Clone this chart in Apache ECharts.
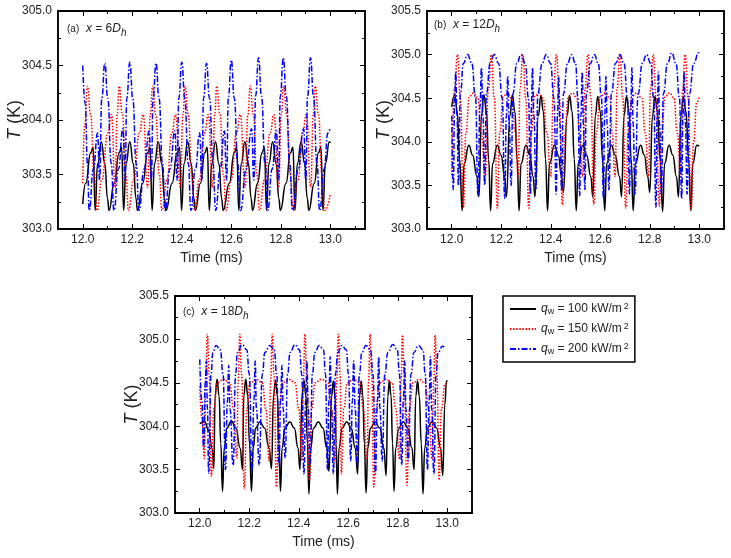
<!DOCTYPE html>
<html>
<head>
<meta charset="utf-8">
<script src="https://cdn.jsdelivr.net/npm/echarts@6.0.0/dist/echarts.min.js"></script>
<style>
html, body { margin: 0; padding: 0; background: #fff; }
#chart { width: 731px; height: 558px; }
</style>
</head>
<body>
<div id="chart"></div>
<script>
// tick values
const majorTimes = [12.0, 12.2, 12.4, 12.6, 12.8, 13.0];
const minorTimes = [11.9, 12.1, 12.3, 12.5, 12.7, 12.9, 13.1];
const heatFlux = ['100', '150', '200'];
const panelTags = ['(a)', '(b)', '(c)'];
const panelPos = ['6', '12', '18'];

// (a) x = 6Dh : [time (ms), T (K)]
const a100 = [[12.000,303.23],
  [12.012,303.42],[12.032,303.70],[12.042,303.75],[12.050,303.17],[12.060,303.60],[12.075,303.80],[12.089,303.60],[12.100,303.28],[12.106,303.17],
  [12.127,303.42],[12.147,303.70],[12.157,303.75],[12.165,303.17],[12.175,303.60],[12.190,303.80],[12.204,303.60],[12.215,303.28],[12.221,303.17],
  [12.242,303.42],[12.262,303.70],[12.272,303.75],[12.280,303.17],[12.290,303.60],[12.305,303.80],[12.319,303.60],[12.330,303.28],[12.336,303.17],
  [12.361,303.42],[12.381,303.70],[12.391,303.75],[12.399,303.17],[12.409,303.60],[12.424,303.80],[12.438,303.60],[12.449,303.28],[12.455,303.17],
  [12.475,303.42],[12.493,303.70],[12.503,303.75],[12.511,303.17],[12.521,303.60],[12.536,303.80],[12.550,303.60],[12.561,303.28],[12.567,303.17],
  [12.592,303.42],[12.612,303.70],[12.622,303.75],[12.630,303.17],[12.640,303.60],[12.655,303.80],[12.669,303.60],[12.680,303.28],[12.686,303.17],
  [12.706,303.42],[12.724,303.70],[12.734,303.75],[12.742,303.17],[12.752,303.60],[12.767,303.80],[12.781,303.60],[12.792,303.28],[12.798,303.17],
  [12.821,303.42],[12.839,303.70],[12.849,303.75],[12.857,303.17],[12.867,303.60],[12.882,303.80],[12.896,303.60],[12.907,303.28],[12.913,303.17],
  [12.935,303.42],[12.952,303.70],[12.962,303.75],[12.970,303.17],[12.980,303.60],[12.996,303.80],[13.000,303.79]];
const a150 = [[12.000,303.42],[12.008,303.95],[12.019,304.31],[12.032,304.05],[12.046,303.50],[12.057,303.17],
  [12.077,303.45],[12.101,303.88],[12.116,304.05],[12.131,303.38],[12.139,304.05],[12.147,304.31],[12.160,304.05],[12.174,303.50],[12.185,303.17],
  [12.205,303.45],[12.229,303.88],[12.244,304.05],[12.262,303.38],[12.273,304.05],[12.282,304.31],[12.295,304.05],[12.309,303.50],[12.320,303.17],
  [12.340,303.45],[12.360,303.88],[12.375,304.05],[12.394,303.38],[12.405,304.05],[12.413,304.31],[12.426,304.05],[12.440,303.50],[12.451,303.17],
  [12.471,303.45],[12.492,303.88],[12.507,304.05],[12.524,303.38],[12.533,304.05],[12.541,304.31],[12.554,304.05],[12.568,303.50],[12.579,303.17],
  [12.599,303.45],[12.621,303.88],[12.636,304.05],[12.656,303.38],[12.667,304.05],[12.676,304.31],[12.689,304.05],[12.703,303.50],[12.714,303.17],
  [12.734,303.45],[12.757,303.88],[12.772,304.05],[12.791,303.38],[12.802,304.05],[12.811,304.31],[12.824,304.05],[12.838,303.50],[12.849,303.17],
  [12.869,303.45],[12.888,303.88],[12.903,304.05],[12.921,303.38],[12.931,304.05],[12.939,304.31],[12.952,304.05],[12.966,303.50],[12.977,303.17],
  [13.000,303.32]];
const a200 = [[12.000,304.50],[12.010,304.15],[12.019,303.60],[12.026,303.17],
  [12.043,303.55],[12.060,303.88],[12.068,303.45],[12.077,304.20],[12.089,304.52],[12.101,304.20],[12.115,303.60],[12.126,303.17],
  [12.144,303.55],[12.162,303.92],[12.171,303.45],[12.178,304.20],[12.190,304.53],[12.202,304.20],[12.216,303.60],[12.227,303.17],
  [12.248,303.55],[12.268,303.90],[12.277,303.45],[12.284,304.20],[12.296,304.52],[12.308,304.20],[12.322,303.60],[12.333,303.17],
  [12.352,303.55],[12.372,303.90],[12.381,303.45],[12.388,304.20],[12.400,304.53],[12.412,304.20],[12.426,303.60],[12.437,303.17],
  [12.455,303.55],[12.472,303.88],[12.481,303.45],[12.488,304.20],[12.500,304.52],[12.512,304.20],[12.526,303.60],[12.537,303.17],
  [12.555,303.55],[12.572,303.90],[12.581,303.45],[12.588,304.20],[12.600,304.55],[12.612,304.20],[12.626,303.60],[12.637,303.17],
  [12.660,303.55],[12.682,303.92],[12.691,303.45],[12.698,304.22],[12.710,304.57],[12.722,304.22],[12.736,303.60],[12.747,303.17],
  [12.765,303.55],[12.782,303.90],[12.791,303.45],[12.798,304.22],[12.810,304.57],[12.822,304.22],[12.836,303.60],[12.847,303.17],
  [12.870,303.55],[12.892,303.92],[12.901,303.45],[12.908,304.22],[12.920,304.57],[12.932,304.22],[12.946,303.60],[12.957,303.17],
  [12.975,303.55],[12.990,303.88],[13.000,303.93]];

// (b) x = 12Dh
const b100 = [[12.000,304.40],[12.012,304.54],[12.022,304.35],[12.032,303.80],[12.042,303.21],[12.050,303.75],[12.069,303.96],[12.084,303.85],[12.102,303.60],[12.110,303.37],
  [12.120,304.30],[12.130,304.54],[12.140,304.35],[12.149,303.80],[12.157,303.21],[12.165,303.75],[12.184,303.96],[12.199,303.85],[12.214,303.60],[12.221,303.37],
  [12.235,304.30],[12.245,304.54],[12.255,304.35],[12.264,303.80],[12.272,303.21],[12.280,303.75],[12.300,303.96],[12.315,303.85],[12.329,303.60],[12.336,303.37],
  [12.350,304.30],[12.360,304.53],[12.370,304.35],[12.379,303.80],[12.387,303.21],[12.395,303.75],[12.415,303.96],[12.430,303.85],[12.444,303.60],[12.451,303.42],
  [12.466,304.30],[12.476,304.53],[12.486,304.35],[12.495,303.80],[12.503,303.21],[12.511,303.75],[12.530,303.96],[12.545,303.85],[12.562,303.60],[12.570,303.37],
  [12.580,304.30],[12.590,304.52],[12.600,304.35],[12.609,303.80],[12.618,303.21],[12.626,303.75],[12.645,303.96],[12.660,303.85],[12.678,303.60],[12.686,303.37],
  [12.696,304.30],[12.706,304.52],[12.716,304.35],[12.725,303.80],[12.733,303.21],[12.742,303.75],[12.763,303.96],[12.778,303.85],[12.792,303.60],[12.800,303.42],
  [12.811,304.30],[12.821,304.52],[12.831,304.35],[12.842,303.80],[12.852,303.20],[12.860,303.75],[12.878,303.96],[12.893,303.85],[12.908,303.60],[12.916,303.37],
  [12.926,304.30],[12.936,304.52],[12.946,304.35],[12.957,303.80],[12.966,303.21],[12.974,303.75],[12.990,303.96],[13.000,303.95]];
const b150 = [[12.000,303.62],[12.011,304.60],[12.023,305.00],[12.035,304.50],[12.047,303.24],[12.057,304.10],[12.071,304.52],[12.088,304.56],[12.105,304.50],[12.120,304.10],[12.135,303.60],
  [12.148,304.60],[12.160,305.00],[12.172,304.50],[12.184,303.24],[12.194,304.10],[12.208,304.52],[12.225,304.56],[12.242,304.50],[12.257,304.10],[12.268,303.60],
  [12.276,304.60],[12.287,305.00],[12.299,304.50],[12.311,303.24],[12.321,304.10],[12.335,304.52],[12.352,304.56],[12.369,304.50],[12.384,304.10],[12.400,303.60],
  [12.411,304.60],[12.423,305.00],[12.435,304.50],[12.447,303.28],[12.457,304.10],[12.471,304.52],[12.488,304.56],[12.505,304.50],[12.516,304.10],[12.528,303.60],
  [12.539,304.60],[12.550,305.00],[12.562,304.50],[12.574,303.28],[12.584,304.10],[12.600,304.52],[12.620,304.56],[12.640,304.50],[12.648,304.10],[12.660,303.60],
  [12.668,304.60],[12.679,305.00],[12.691,304.50],[12.703,303.24],[12.713,304.10],[12.728,304.52],[12.748,304.56],[12.768,304.50],[12.782,304.10],[12.795,303.60],
  [12.803,304.60],[12.814,305.00],[12.826,304.50],[12.838,303.26],[12.848,304.10],[12.862,304.52],[12.880,304.56],[12.898,304.50],[12.911,304.10],[12.925,303.60],
  [12.933,304.60],[12.943,305.00],[12.955,304.50],[12.967,303.22],[12.977,304.00],[12.990,304.45],[13.000,304.52]];
const b200 = [[12.000,304.30],[12.006,303.45],[12.012,304.50],[12.016,304.80],[12.021,304.30],[12.027,303.50],[12.035,304.55],
  [12.047,304.90],[12.064,305.00],[12.081,304.90],[12.096,304.50],[12.106,303.38],[12.114,304.40],[12.120,304.85],[12.126,304.30],[12.133,303.50],[12.140,304.55],
  [12.155,304.90],[12.172,305.00],[12.189,304.90],[12.204,304.50],[12.214,303.35],[12.221,304.30],[12.226,304.75],[12.232,304.20],[12.240,303.50],[12.247,304.55],
  [12.263,304.90],[12.280,305.00],[12.297,304.90],[12.310,304.50],[12.318,303.40],[12.322,304.40],[12.326,304.85],[12.332,304.30],[12.340,303.45],[12.348,304.55],
  [12.365,304.90],[12.382,305.00],[12.399,304.90],[12.413,304.50],[12.422,303.40],[12.427,304.30],[12.432,304.75],[12.437,304.20],[12.444,303.45],[12.451,304.55],
  [12.468,304.90],[12.484,305.00],[12.500,304.90],[12.510,304.50],[12.517,303.38],[12.522,304.30],[12.527,304.80],[12.532,304.20],[12.538,303.45],[12.544,304.55],
  [12.560,304.90],[12.576,305.00],[12.592,304.90],[12.605,304.50],[12.613,303.35],[12.618,304.30],[12.623,304.75],[12.628,304.20],[12.635,303.45],[12.645,304.55],
  [12.662,304.90],[12.679,305.00],[12.696,304.90],[12.710,304.50],[12.718,303.40],[12.723,304.30],[12.728,304.85],[12.733,304.20],[12.740,303.40],[12.753,304.55],
  [12.770,304.90],[12.787,305.00],[12.804,304.90],[12.816,304.50],[12.825,303.25],[12.830,304.30],[12.835,304.80],[12.840,304.20],[12.847,303.40],[12.855,304.55],
  [12.872,304.90],[12.889,305.02],[12.906,304.90],[12.920,304.50],[12.929,303.35],[12.934,304.30],[12.939,304.80],[12.944,304.20],[12.951,303.40],[12.960,304.55],
  [12.978,304.90],[12.997,305.02],[13.000,305.02]];

// (c) x = 18Dh
const c100 = [[12.000,304.03],[12.020,304.05],[12.036,303.95],[12.050,303.75],[12.057,303.51],
  [12.062,304.35],[12.070,304.54],[12.078,304.35],[12.085,303.80],[12.092,303.25],[12.099,303.75],[12.110,303.98],[12.128,304.06],[12.146,303.98],[12.163,303.75],[12.173,303.50],
  [12.178,304.35],[12.186,304.54],[12.194,304.35],[12.201,303.80],[12.209,303.25],[12.216,303.75],[12.226,303.98],[12.243,304.05],[12.262,303.98],[12.280,303.75],[12.290,303.51],
  [12.298,304.35],[12.306,304.53],[12.314,304.35],[12.320,303.80],[12.326,303.25],[12.333,303.75],[12.344,303.98],[12.364,304.05],[12.382,303.98],[12.397,303.75],[12.405,303.50],
  [12.413,304.35],[12.421,304.53],[12.429,304.35],[12.435,303.80],[12.441,303.22],[12.448,303.75],[12.460,303.98],[12.479,304.05],[12.498,303.98],[12.513,303.75],[12.522,303.48],
  [12.533,304.35],[12.540,304.52],[12.547,304.35],[12.551,303.80],[12.556,303.22],[12.563,303.75],[12.575,303.98],[12.594,304.05],[12.612,303.98],[12.628,303.75],[12.638,303.45],
  [12.646,304.35],[12.652,304.52],[12.659,304.35],[12.665,303.80],[12.672,303.23],[12.679,303.75],[12.690,303.98],[12.708,304.05],[12.727,303.98],[12.744,303.75],[12.753,303.43],
  [12.760,304.35],[12.766,304.52],[12.773,304.35],[12.779,303.80],[12.785,303.25],[12.792,303.75],[12.804,303.98],[12.823,304.05],[12.841,303.98],[12.857,303.75],[12.866,303.50],
  [12.873,304.35],[12.880,304.52],[12.887,304.35],[12.895,303.80],[12.902,303.22],[12.909,303.75],[12.920,303.98],[12.938,304.05],[12.957,303.98],[12.973,303.75],[12.982,303.43],
  [12.990,304.25],[12.997,304.52],[13.000,304.53]];
const c150 = [[12.000,304.46],[12.008,304.10],[12.019,303.63],[12.024,304.50],[12.031,305.06],[12.038,304.60],[12.047,303.42],
  [12.057,304.20],[12.071,304.50],[12.096,304.54],[12.121,304.50],[12.136,304.20],[12.150,303.63],
  [12.155,304.50],[12.162,305.06],[12.169,304.60],[12.180,303.28],[12.190,304.20],[12.203,304.50],[12.228,304.54],[12.253,304.50],[12.267,304.20],[12.281,303.60],
  [12.286,304.50],[12.293,305.06],[12.300,304.60],[12.310,303.30],[12.320,304.20],[12.334,304.50],[12.360,304.54],[12.385,304.50],[12.400,304.20],[12.413,303.60],
  [12.418,304.50],[12.425,305.06],[12.432,304.60],[12.443,303.38],[12.452,304.20],[12.466,304.50],[12.492,304.54],[12.517,304.50],[12.533,304.20],[12.547,303.60],
  [12.553,304.50],[12.560,305.06],[12.567,304.60],[12.572,303.45],[12.582,304.20],[12.596,304.50],[12.621,304.54],[12.646,304.50],[12.661,304.20],[12.676,303.62],
  [12.682,304.50],[12.688,305.06],[12.695,304.60],[12.703,303.30],[12.713,304.20],[12.727,304.50],[12.752,304.54],[12.777,304.50],[12.792,304.20],[12.807,303.62],
  [12.813,304.50],[12.819,305.05],[12.826,304.60],[12.837,303.32],[12.847,304.20],[12.861,304.50],[12.885,304.54],[12.910,304.50],[12.925,304.20],[12.939,303.62],
  [12.945,304.50],[12.951,305.05],[12.958,304.60],[12.967,303.38],[12.977,304.20],[12.990,304.48],[13.000,304.52]];
const c200 = [[12.000,304.77],[12.008,304.30],[12.016,303.75],[12.022,304.50],[12.027,304.75],[12.031,304.20],[12.036,303.46],
  [12.046,304.60],[12.053,304.85],[12.066,304.93],[12.083,304.88],[12.094,304.60],[12.104,303.50],[12.112,304.30],[12.117,304.70],[12.122,304.20],[12.135,303.55],[12.145,304.60],
  [12.152,304.85],[12.172,304.94],[12.190,304.88],[12.200,304.60],[12.211,303.48],[12.219,304.30],[12.224,304.75],[12.229,304.20],[12.240,303.55],[12.253,304.60],
  [12.263,304.85],[12.283,304.93],[12.301,304.88],[12.311,304.60],[12.320,303.55],[12.327,304.30],[12.332,304.70],[12.337,304.20],[12.345,303.63],[12.355,304.60],
  [12.365,304.85],[12.385,304.94],[12.403,304.88],[12.412,304.60],[12.421,303.45],[12.428,304.30],[12.433,304.75],[12.438,304.20],[12.446,303.55],[12.455,304.60],
  [12.465,304.85],[12.483,304.93],[12.500,304.88],[12.508,304.60],[12.516,303.50],[12.522,304.30],[12.527,304.80],[12.532,304.20],[12.540,303.45],[12.548,304.60],
  [12.558,304.85],[12.574,304.93],[12.592,304.88],[12.601,304.60],[12.610,303.60],[12.617,304.30],[12.622,304.75],[12.628,304.20],[12.636,303.55],[12.645,304.60],
  [12.655,304.85],[12.671,304.93],[12.690,304.88],[12.700,304.60],[12.710,303.45],[12.718,304.30],[12.723,304.80],[12.728,304.20],[12.737,303.60],[12.748,304.60],
  [12.760,304.85],[12.780,304.94],[12.798,304.88],[12.807,304.60],[12.816,303.55],[12.823,304.30],[12.828,304.75],[12.833,304.20],[12.842,303.60],[12.854,304.60],
  [12.865,304.85],[12.884,304.93],[12.902,304.88],[12.911,304.60],[12.920,303.50],[12.927,304.30],[12.932,304.80],[12.937,304.20],[12.946,303.45],[12.955,304.60],
  [12.963,304.85],[12.980,304.92],[12.988,304.91]];

const panelData = [[a100, a150, a200], [b100, b150, b200], [c100, c150, c200]];

// layout of the three frames
const panels = [
  { left: 58, top: 11, width: 307, height: 218, xmax: 13.14, ymax: 305.0, tagX: 67, tagY: 23 },
  { left: 427, top: 11, width: 297, height: 218, xmax: 13.1, ymax: 305.5, tagX: 434, tagY: 19 },
  { left: 175, top: 296, width: 297, height: 217, xmax: 13.1, ymax: 305.5, tagX: 183, tagY: 306 },
];

const FONT = 'Arial, "Liberation Sans", sans-serif';
const lineColors = ['#000000', '#ff0000', '#0000ff'];
const lineTypes = ['solid', [1.5, 1.6], [6, 2, 1.5, 2]];
const tickStyle = { color: '#000', width: 1 };

function timeAxes(g, xmax) {
  const base = { gridIndex: g, type: 'value', min: 11.9, max: xmax,
    splitLine: { show: false },
    axisLine: { show: true, onZero: false, lineStyle: { color: '#000', width: 1.5 } } };
  return [
    Object.assign({}, base, {
      position: 'bottom',
      axisTick: { inside: true, length: 5, customValues: majorTimes, lineStyle: tickStyle },
      axisLabel: { customValues: majorTimes, formatter: (v) => v.toFixed(1), margin: 5,
        fontSize: 12, color: '#222', fontFamily: FONT },
      name: 'Time (ms)', nameLocation: 'middle', nameGap: 22, nameMoveOverlap: false,
      nameTextStyle: { fontSize: 14, color: '#222', fontFamily: FONT },
    }),
    Object.assign({}, base, { position: 'bottom',
      axisTick: { inside: true, length: 3, customValues: minorTimes, lineStyle: tickStyle },
      axisLabel: { show: false } }),
    Object.assign({}, base, { position: 'top',
      axisTick: { inside: true, length: 5, customValues: majorTimes, lineStyle: tickStyle },
      axisLabel: { show: false } }),
    Object.assign({}, base, { position: 'top',
      axisTick: { inside: true, length: 3, customValues: minorTimes, lineStyle: tickStyle },
      axisLabel: { show: false } }),
  ];
}

function tempAxes(g, ymax) {
  const base = { gridIndex: g, type: 'value', min: 303, max: ymax, interval: 0.5,
    splitLine: { show: false },
    axisLine: { show: true, onZero: false, lineStyle: { color: '#000', width: 1.5 } },
    axisTick: { show: true, inside: true, length: 5, lineStyle: tickStyle },
    minorTick: { show: true, splitNumber: 2, length: 3, lineStyle: tickStyle },
    minorSplitLine: { show: false } };
  return [
    Object.assign({}, base, {
      position: 'left',
      axisLabel: { formatter: (v) => v.toFixed(1), margin: 6, fontSize: 12, color: '#222', fontFamily: FONT },
      name: '{i|T} (K)', nameLocation: 'middle', nameRotate: 90, nameGap: 34, nameMoveOverlap: false,
      nameTextStyle: { fontSize: 18, color: '#222', fontFamily: FONT,
        rich: { i: { fontSize: 18, fontStyle: 'italic', color: '#222', fontFamily: FONT } } },
    }),
    Object.assign({}, base, { position: 'right', axisLabel: { show: false } }),
  ];
}

function richText(lh) {
  return {
    i: { fontStyle: 'italic', fontSize: 12, color: '#222', fontFamily: FONT, lineHeight: lh },
    n: { fontSize: 12, color: '#222', fontFamily: FONT, lineHeight: lh },
    t: { fontSize: 10, color: '#222', fontFamily: FONT, lineHeight: lh },
    s: { fontSize: 9, color: '#222', fontFamily: FONT, lineHeight: 9, verticalAlign: 'bottom' },
    si: { fontStyle: 'italic', fontSize: 10, color: '#222', fontFamily: FONT, lineHeight: 10, verticalAlign: 'bottom' },
    p: { fontSize: 9, color: '#222', fontFamily: FONT, lineHeight: 9, verticalAlign: 'top', padding: [0, 0, 0, 2] },
  };
}

const xAxes = [], yAxes = [], series = [], graphics = [];
panels.forEach((p, g) => {
  xAxes.push(...timeAxes(g, p.xmax));
  yAxes.push(...tempAxes(g, p.ymax));
  panelData[g].forEach((d, k) => {
    series.push({
      name: heatFlux[k], type: 'line', xAxisIndex: 4 * g, yAxisIndex: 2 * g,
      data: d, showSymbol: false, symbol: 'none', smooth: 0.5, smoothMonotone: 'x',
      lineStyle: { color: lineColors[k], width: 1.5, type: lineTypes[k] },
      itemStyle: { color: lineColors[k] },
      animation: false,
    });
  });
  graphics.push({
    type: 'text', left: p.tagX, top: p.tagY, z: 10,
    style: {
      text: '{t|' + panelTags[g] + '}  {i|x}{n| = ' + panelPos[g] + '}{i|D}{si|h}',
      rich: richText(18), fill: '#222', font: '12px ' + FONT,
    },
  });
});

const chart = echarts.init(document.getElementById('chart'));
chart.setOption({
  animation: false,
  backgroundColor: '#fff',
  grid: panels.map((p) => ({ left: p.left, top: p.top, width: p.width, height: p.height,
    outerBoundsMode: 'none', containLabel: false,
    show: true, borderColor: '#000', borderWidth: 1.5, backgroundColor: 'transparent' })),
  xAxis: xAxes,
  yAxis: yAxes,
  legend: {
    data: heatFlux, left: 503, top: 296, orient: 'vertical', selectedMode: false,
    itemWidth: 26, itemHeight: 12, itemGap: 6, padding: [6, 6, 6, 6],
    itemStyle: { opacity: 0 },
    borderColor: '#000', borderWidth: 1.5, backgroundColor: '#fff',
    formatter: (name) => '{i|q}{s|w}{n| = ' + name + ' kW/m}{p|2}',
    textStyle: { fontSize: 12, color: '#222', fontFamily: FONT, rich: richText(14) },
  },
  graphic: graphics,
  series: series,
});
</script>
</body>
</html>
